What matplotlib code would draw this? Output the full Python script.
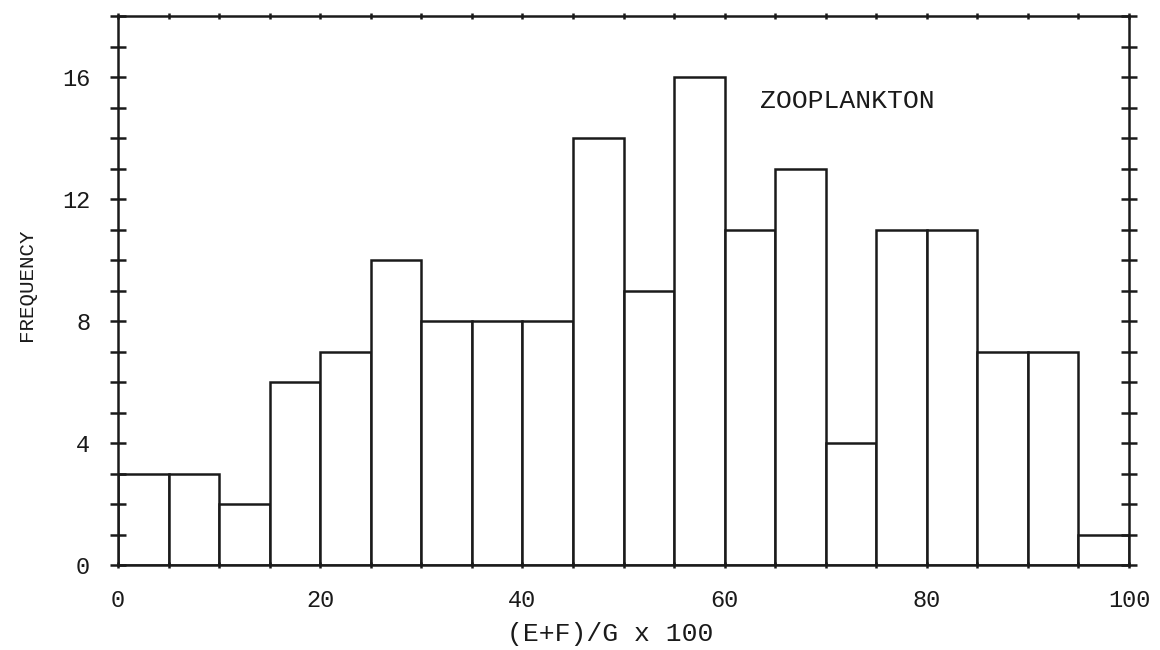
import numpy as np
import matplotlib
matplotlib.use('Agg')
from matplotlib import pyplot as plt

bin_edges = [0, 5, 10, 15, 20, 25, 30, 35, 40, 45, 50, 55, 60, 65, 70, 75, 80, 85, 90, 95, 100]
frequency = [3, 3, 2, 6, 7, 10, 8, 8, 8, 14, 9, 16, 11, 13, 4, 11, 11, 7, 7, 1]
x_labels = [0, 20, 40, 60, 80, 100]
y_labels = [0, 4, 8, 12, 16]

plt.rcParams['font.family'] = ['Liberation Mono', 'DejaVu Sans Mono']
ink = '#1a1a1a'

fig = plt.figure(figsize=(11.6, 6.5), dpi=100)
ax = fig.add_axes([118 / 1160, 85 / 650, 1011 / 1160, 549 / 650])

edges = np.array(bin_edges)
ax.bar(edges[:-1], frequency, width=np.diff(edges), align='edge',
       facecolor='white', edgecolor=ink, linewidth=1.8)

ax.set_xlim(0, 100)
ax.set_ylim(0, 18)
for s in ax.spines.values():
    s.set_linewidth(1.8)
    s.set_color(ink)

ax.set_xticks(x_labels)
ax.set_xticks(bin_edges, minor=True)
ax.set_yticks(y_labels)
ax.set_yticks(range(0, 19), minor=True)

ax.tick_params(axis='y', which='both', direction='inout', length=12, width=1.8,
               left=True, right=True, color=ink)
ax.tick_params(axis='x', which='both', direction='inout', length=4, width=1.8,
               top=True, bottom=True, color=ink)
ax.tick_params(axis='y', which='major', labelsize=17, labelcolor=ink, pad=14)
ax.tick_params(axis='x', which='major', labelsize=17, labelcolor=ink, pad=15)

ax.set_xlabel('(E+F)/G x 100', fontsize=19, color=ink)
ax.xaxis.set_label_coords(0.487, -0.104)
fig.text(26 / 1160, 1 - 285 / 650, 'FREQUENCY', fontsize=15, color=ink,
         rotation=90, ha='center', va='center')

ax.text(63.5, 15.2, 'ZOOPLANKTON', fontsize=19, color=ink, va='center', ha='left')

fig.savefig('out.png', dpi=100)
